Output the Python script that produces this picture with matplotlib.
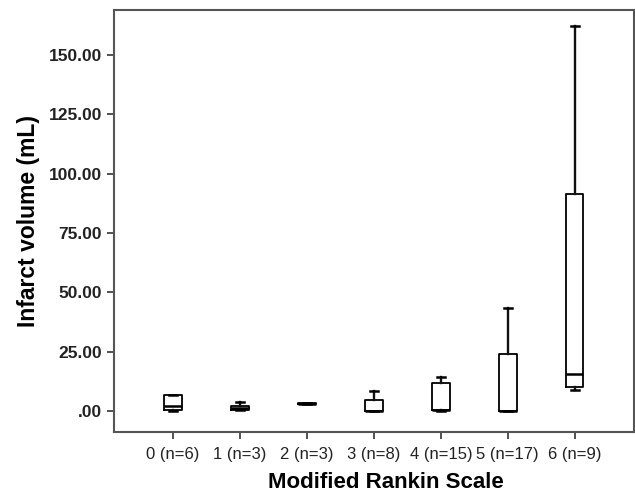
import matplotlib.pyplot as plt

plt.rcParams['font.family'] = ['Liberation Sans', 'DejaVu Sans']

groups = ['0 (n=6)', '1 (n=3)', '2 (n=3)', '3 (n=8)', '4 (n=15)', '5 (n=17)', '6 (n=9)']
whislo = [0.0, 0.5, 2.8, 0.0, 0.0, 0.0, 8.8]
q1 = [0.3, 0.5, 2.8, 0.0, 0.3, 0.0, 10.0]
med = [2.2, 1.3, 3.2, 0.0, 0.6, 0.0, 15.7]
q3 = [6.7, 2.1, 3.5, 4.8, 11.9, 23.9, 91.4]
whishi = [6.7, 3.8, 3.5, 8.5, 14.3, 43.5, 162.4]

stats = []
for i in range(len(groups)):
    stats.append({'label': groups[i], 'whislo': whislo[i], 'q1': q1[i], 'med': med[i],
                  'q3': q3[i], 'whishi': whishi[i], 'fliers': []})

fig = plt.figure(figsize=(6.35, 4.97), dpi=100)
ax = fig.add_axes([0.1795, 0.1308, 0.8185, 0.849])

ax.bxp(stats, positions=range(len(groups)), widths=0.26, capwidths=0.12,
       boxprops=dict(color='black', linewidth=1.3),
       medianprops=dict(color='black', linewidth=1.8),
       whiskerprops=dict(color='#111111', linewidth=1.7),
       capprops=dict(color='black', linewidth=1.8))

ax.set_xlim(-0.88, 6.88)
ax.set_ylim(-8.8, 169)
ax.set_yticks([0, 25, 50, 75, 100, 125, 150])
ax.set_yticklabels(['.00', '25.00', '50.00', '75.00', '100.00', '125.00', '150.00'],
                   fontsize=12.5, fontweight='bold', color='#222222')
ax.set_xticklabels(groups, fontsize=12, color='#222222')

for s in ax.spines.values():
    s.set_color('#555555')
    s.set_linewidth(1.5)
ax.tick_params(axis='both', direction='out', length=5, width=1.2, color='#333333')
ax.tick_params(axis='x', pad=6)

ax.set_ylabel('Infarct volume (mL)', fontsize=16.5, fontweight='bold', labelpad=6)
ax.set_xlabel('Modified Rankin Scale', fontsize=16, fontweight='bold')
ax.xaxis.set_label_coords(0.523, -0.095)

plt.savefig('out.png', dpi=100)
